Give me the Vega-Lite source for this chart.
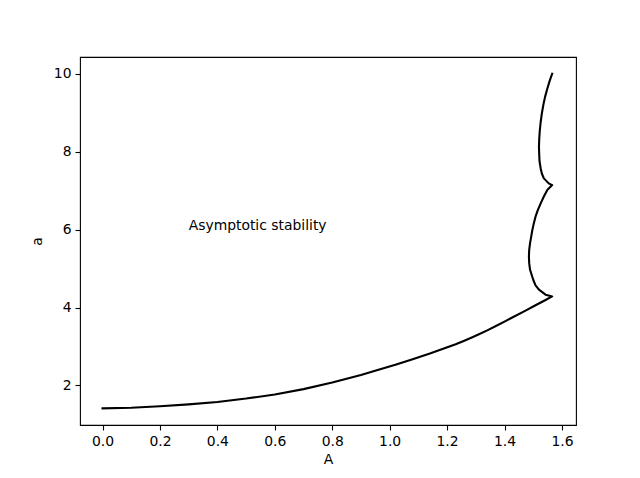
{
  "$schema": "https://vega.github.io/schema/vega-lite/v6.json",
  "width": 496,
  "height": 368,
  "autosize": {"type": "none"},
  "padding": {"left": 80, "top": 57, "right": 64, "bottom": 53},
  "background": "white",
  "config": {
    "view": {"stroke": "black", "strokeWidth": 1.1},
    "font": "DejaVu Sans",
    "axis": {
      "domain": false,
      "grid": false,
      "tickColor": "black",
      "tickWidth": 1.1,
      "tickSize": 5,
      "labelColor": "black",
      "labelFont": "DejaVu Sans",
      "labelFontSize": 13.9,
      "titleFont": "DejaVu Sans",
      "titleFontSize": 13.9,
      "titleFontWeight": "normal",
      "titleColor": "black",
      "labelPadding": 4
    }
  },
  "datasets": {
    "curve": [
      {"i": 0, "A": 0.0, "a": 1.414},
      {"i": 1, "A": 0.1, "a": 1.428},
      {"i": 2, "A": 0.2, "a": 1.466},
      {"i": 3, "A": 0.3, "a": 1.515},
      {"i": 4, "A": 0.4, "a": 1.578},
      {"i": 5, "A": 0.5, "a": 1.664},
      {"i": 6, "A": 0.6, "a": 1.77},
      {"i": 7, "A": 0.7, "a": 1.907},
      {"i": 8, "A": 0.8, "a": 2.075},
      {"i": 9, "A": 0.9, "a": 2.27},
      {"i": 10, "A": 0.964, "a": 2.41},
      {"i": 11, "A": 1.02, "a": 2.53},
      {"i": 12, "A": 1.08, "a": 2.675},
      {"i": 13, "A": 1.14, "a": 2.82},
      {"i": 14, "A": 1.196, "a": 2.967},
      {"i": 15, "A": 1.23, "a": 3.06},
      {"i": 16, "A": 1.26, "a": 3.15},
      {"i": 17, "A": 1.29, "a": 3.245},
      {"i": 18, "A": 1.311, "a": 3.315},
      {"i": 19, "A": 1.34, "a": 3.415},
      {"i": 20, "A": 1.37, "a": 3.525},
      {"i": 21, "A": 1.4, "a": 3.64},
      {"i": 22, "A": 1.427, "a": 3.745},
      {"i": 23, "A": 1.47, "a": 3.91},
      {"i": 24, "A": 1.508, "a": 4.06},
      {"i": 25, "A": 1.543, "a": 4.195},
      {"i": 26, "A": 1.566, "a": 4.286},
      {"i": 27, "A": 1.543, "a": 4.33},
      {"i": 28, "A": 1.52, "a": 4.458},
      {"i": 29, "A": 1.508, "a": 4.57},
      {"i": 30, "A": 1.5, "a": 4.714},
      {"i": 31, "A": 1.489, "a": 4.969},
      {"i": 32, "A": 1.486, "a": 5.14},
      {"i": 33, "A": 1.485, "a": 5.309},
      {"i": 34, "A": 1.486, "a": 5.48},
      {"i": 35, "A": 1.489, "a": 5.652},
      {"i": 36, "A": 1.493, "a": 5.82},
      {"i": 37, "A": 1.497, "a": 5.992},
      {"i": 38, "A": 1.502, "a": 6.16},
      {"i": 39, "A": 1.508, "a": 6.333},
      {"i": 40, "A": 1.516, "a": 6.5},
      {"i": 41, "A": 1.526, "a": 6.675},
      {"i": 42, "A": 1.537, "a": 6.85},
      {"i": 43, "A": 1.549, "a": 7.015},
      {"i": 44, "A": 1.566, "a": 7.143},
      {"i": 45, "A": 1.554, "a": 7.187},
      {"i": 46, "A": 1.537, "a": 7.315},
      {"i": 47, "A": 1.53, "a": 7.44},
      {"i": 48, "A": 1.526, "a": 7.57},
      {"i": 49, "A": 1.522, "a": 7.75},
      {"i": 50, "A": 1.521, "a": 7.91},
      {"i": 51, "A": 1.52, "a": 8.12},
      {"i": 52, "A": 1.521, "a": 8.338},
      {"i": 53, "A": 1.523, "a": 8.55},
      {"i": 54, "A": 1.526, "a": 8.762},
      {"i": 55, "A": 1.53, "a": 8.98},
      {"i": 56, "A": 1.535, "a": 9.189},
      {"i": 57, "A": 1.541, "a": 9.4},
      {"i": 58, "A": 1.549, "a": 9.616},
      {"i": 59, "A": 1.557, "a": 9.81},
      {"i": 60, "A": 1.566, "a": 10.0}
    ],
    "note": [
      {"A": 0.3, "a": 6.0, "label": "Asymptotic stability"}
    ]
  },
  "layer": [
    {
      "data": {"name": "curve"},
      "mark": {"type": "line", "color": "black", "strokeWidth": 2.1, "strokeJoin": "round", "strokeCap": "square"},
      "encoding": {
        "x": {
          "field": "A", "type": "quantitative", "title": "A",
          "scale": {"domain": [-0.0785, 1.649], "nice": false, "zero": false},
          "axis": {"values": [0, 0.2, 0.4, 0.6, 0.8, 1.0, 1.2, 1.4, 1.6], "format": ".1f", "titlePadding": 5, "labelFlush": false}
        },
        "y": {
          "field": "a", "type": "quantitative", "title": "a",
          "scale": {"domain": [0.986, 10.43], "nice": false, "zero": false},
          "axis": {"values": [2, 4, 6, 8, 10], "format": "d", "titlePadding": 9, "labelFlush": false}
        },
        "order": {"field": "i", "type": "quantitative"}
      }
    },
    {
      "data": {"name": "note"},
      "mark": {"type": "text", "align": "left", "baseline": "alphabetic", "fontSize": 13.9, "font": "DejaVu Sans", "color": "black"},
      "encoding": {
        "x": {"field": "A", "type": "quantitative"},
        "y": {"field": "a", "type": "quantitative"},
        "text": {"field": "label"}
      }
    }
  ]
}
